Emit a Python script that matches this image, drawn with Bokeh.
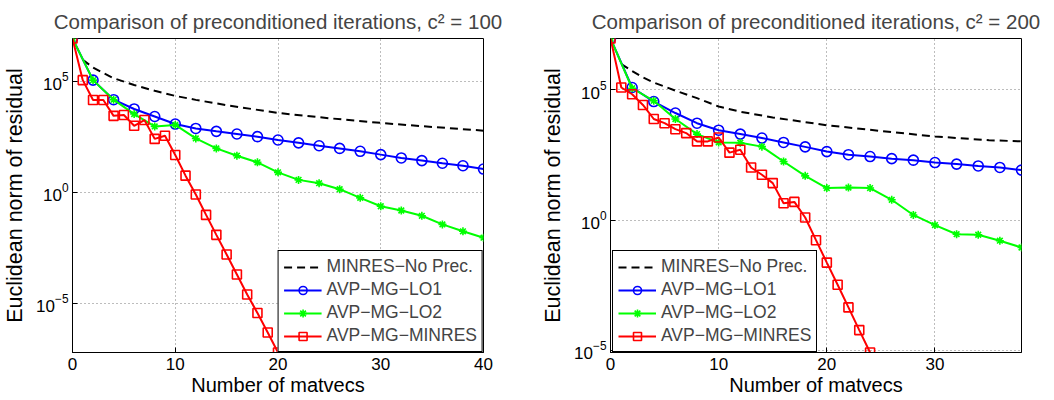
from bokeh.plotting import figure
from bokeh.models import Range1d, FixedTicker, Legend, LegendItem
from bokeh.layouts import row
from bokeh.embed import file_html
from bokeh.resources import INLINE

FONT = "Liberation Sans"

# ---------------- c^2 = 100 ----------------
title_100 = "Comparison of preconditioned iterations, c² = 100"
x_minres_100 = [1, 2, 3, 4, 6, 8, 10, 12, 15, 20, 25, 30, 35, 40]
y_minres_100 = [9.55e5, 4.27e5, 2.40e5, 1.41e5, 6.92e4, 3.80e4, 2.24e4, 1.48e4,
                8.51e3, 3.80e3, 2.19e3, 1.35e3, 891, 603]
x_lo_100 = [0, 2, 4, 6, 8, 10, 12, 14, 16, 18, 20, 22, 24, 26, 28, 30, 32, 34, 36, 38, 40]
y_lo1_100 = [8.71e6, 1.15e5, 1.51e4, 5.75e3, 2.63e3, 1.20e3, 759, 562, 427, 324, 229,
             170, 126, 95.5, 70.8, 50.1, 35.5, 26.9, 20.4, 15.8, 11.2]
y_lo2_100 = [8.71e6, 1.15e5, 1.51e4, 3.39e3, 933, 1.10e3, 269, 95.5, 44.7, 22.4, 7.94,
             3.63, 2.57, 1.38, 0.562, 0.234, 0.151, 0.0871, 0.0355, 0.0174, 0.00891]
x_mg_100 = [0, 1, 2, 3, 4, 5, 6, 7, 8, 9, 10, 11, 12, 13, 14, 15, 16, 17, 18, 19, 20]
y_mg_100 = [8.71e6, 1.15e5, 1.45e4, 1.45e4, 2.82e3, 3.09e3, 1.0e3, 1.82e3, 257, 355,
            47.9, 5.62, 0.794, 0.0955, 0.0120, 1.55e-3, 1.95e-4, 2.45e-5, 3.55e-6,
            4.68e-7, 5.89e-8]

# ---------------- c^2 = 200 ----------------
title_200 = "Comparison of preconditioned iterations, c² = 200"
x_minres_200 = [1, 2, 3, 4, 6, 8, 10, 12, 15, 20, 25, 30, 35, 38]
y_minres_200 = [9.77e5, 5.25e5, 3.02e5, 1.91e5, 9.33e4, 4.79e4, 2.29e4, 1.45e4,
                8.71e3, 4.37e3, 2.63e3, 1.62e3, 1.17e3, 1.05e3]
x_lo_200 = [0, 2, 4, 6, 8, 10, 12, 14, 16, 18, 20, 22, 24, 26, 28, 30, 32, 34, 36, 38]
y_lo1_200 = [9.33e6, 1.23e5, 3.55e4, 1.29e4, 5.25e3, 2.82e3, 2.0e3, 1.41e3, 955, 646,
             427, 324, 275, 229, 200, 162, 141, 120, 105, 83.2]
y_lo2_200 = [9.33e6, 1.15e5, 3.80e4, 7.59e3, 2.0e3, 955, 933, 661, 178, 50.1, 17.0,
             17.8, 17.0, 6.03, 1.58, 0.646, 0.288, 0.275, 0.162, 0.0891]
x_mg_200 = list(range(0, 25))
y_mg_200 = [9.33e6, 1.23e5, 6.76e4, 2.63e4, 7.59e3, 5.25e3, 3.09e3, 2.19e3, 1.05e3,
            1.05e3, 1.48e3, 389, 501, 105, 55.0, 26.3, 4.47, 5.01, 1.26, 0.170,
            0.0234, 3.31e-3, 4.47e-4, 6.03e-5, 8.32e-6]

labels = ["MINRES−No Prec.", "AVP−MG−LO1", "AVP−MG−LO2", "AVP−MG−MINRES"]
x_ticks = [0, 10, 20, 30, 40]
y_ticks = [1e-5, 1, 1e5]


def panel(title, width, bl, br, xm, ym, xl, y1, y2, xg, yg, leg_loc):
    all_y = ym + y1 + y2 + yg
    xmax = max(max(xm), max(xl), max(xg))
    p = figure(width=width, height=400, y_axis_type="log",
               x_range=Range1d(0, xmax), y_range=Range1d(min(all_y), max(all_y)),
               output_backend="svg", toolbar_location=None,
               min_border_left=bl, min_border_right=br,
               min_border_top=38, min_border_bottom=48)
    p.title.text = title
    p.title.align = "center"
    p.title.text_font = FONT
    p.title.text_font_size = "20.5px"
    p.title.text_font_style = "normal"
    p.title.standoff = 12

    p.outline_line_color = "black"
    p.outline_line_alpha = 1
    p.outline_line_width = 1
    p.background_fill_color = "white"

    p.xaxis.ticker = FixedTicker(ticks=x_ticks)
    p.yaxis.ticker = FixedTicker(ticks=y_ticks)
    for ax in (p.xaxis, p.yaxis):
        ax.major_tick_in = 5
        ax.major_tick_out = 0
        ax.minor_tick_in = 0
        ax.minor_tick_out = 0
        ax.axis_line_color = "black"
        ax.major_tick_line_color = "black"
        ax.major_label_text_font = FONT
        ax.major_label_text_font_size = "17px"
        ax.major_label_text_color = "black"
        ax.axis_label_text_font = FONT
        ax.axis_label_text_font_style = "normal"
        ax.axis_label_text_color = "black"
    p.xaxis.axis_label_text_font_size = "20px"
    p.yaxis.axis_label_text_font_size = "21.5px"
    p.xaxis.axis_label = "Number of matvecs"
    p.yaxis.axis_label = "Euclidean norm of residual"
    p.xaxis.major_label_standoff = 5
    p.xaxis.axis_label_standoff = 1
    p.yaxis.major_label_standoff = 4
    p.yaxis.axis_label_standoff = 6

    for g in (p.xgrid, p.ygrid):
        g.grid_line_color = "#7a7a7a"
        g.grid_line_dash = "1 3"
        g.grid_line_width = 1

    r0 = p.line(xm, ym, line_color="black", line_width=2, line_dash="8 5")
    r1 = p.line(xl, y1, line_color="#0000ff", line_width=2)
    m1 = p.scatter(xl, y1, marker="circle", size=10, fill_color=None,
                   line_color="#0000ff", line_width=1.6)
    r2 = p.line(xl, y2, line_color="#00ff00", line_width=2)
    m2 = p.scatter(xl, y2, marker="asterisk", size=8,
                   line_color="#00ff00", line_width=1.6)
    r3 = p.line(xg, yg, line_color="#ff0000", line_width=2)
    m3 = p.scatter(xg, yg, marker="square", size=9, fill_color=None,
                   line_color="#ff0000", line_width=1.6)

    leg = Legend(items=[LegendItem(label=labels[0], renderers=[r0]),
                        LegendItem(label=labels[1], renderers=[r1, m1]),
                        LegendItem(label=labels[2], renderers=[r2, m2]),
                        LegendItem(label=labels[3], renderers=[r3, m3])],
                 location=leg_loc)
    leg.border_line_color = "black"
    leg.border_line_width = 1
    leg.border_line_alpha = 1
    leg.background_fill_color = "white"
    leg.background_fill_alpha = 1
    leg.label_text_font = FONT
    leg.label_text_font_size = "17.5px"
    leg.glyph_width = 38
    leg.glyph_height = 20
    leg.label_height = 20
    leg.label_standoff = 5
    leg.padding = 5
    leg.spacing = 2
    leg.margin = 0
    p.add_layout(leg)
    return p


p1 = panel(title_100, 535, 71, 52, x_minres_100, y_minres_100, x_lo_100,
           y_lo1_100, y_lo2_100, x_mg_100, y_mg_100, "bottom_right")
p2 = panel(title_200, 519, 75, 33, x_minres_200, y_minres_200, x_lo_200,
           y_lo1_200, y_lo2_200, x_mg_200, y_mg_200, (2, 0))

layout = row(p1, p2)
open("out.html", "w").write(file_html(layout, INLINE))
